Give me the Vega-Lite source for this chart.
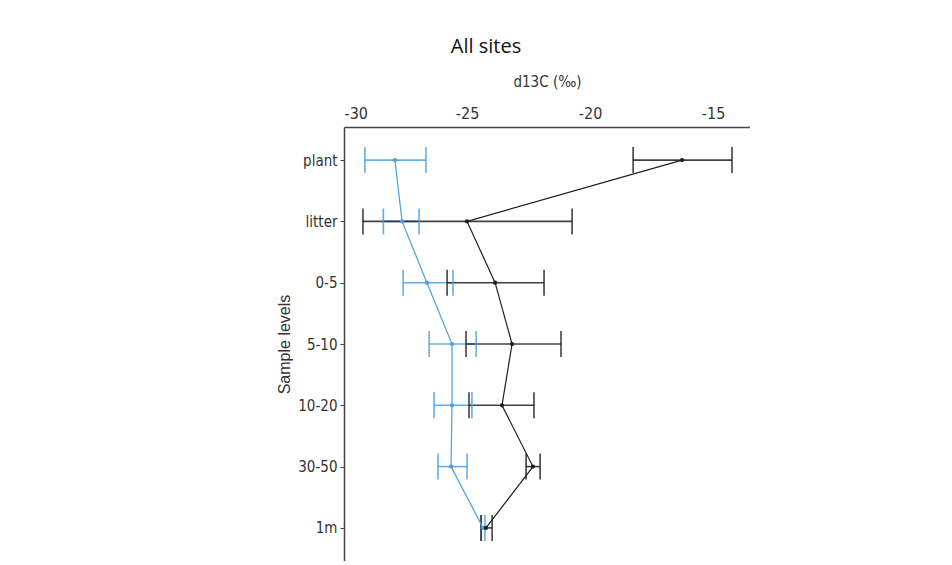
{
  "$schema": "https://vega.github.io/schema/vega-lite/v6.json",
  "autosize": "none",
  "width": 406,
  "height": 434,
  "padding": {"left": 344, "top": 127, "right": 0, "bottom": 0},
  "background": "white",
  "title": {
    "text": "All sites",
    "font": "Open Sans",
    "fontSize": 20,
    "fontWeight": "normal",
    "color": "#111",
    "anchor": "middle",
    "dx": -61,
    "offset": 17
  },
  "config": {
    "view": {"stroke": null},
    "axis": {
      "labelFont": "DejaVu Sans Condensed",
      "titleFont": "DejaVu Sans Condensed",
      "labelColor": "#333",
      "titleColor": "#333",
      "domainColor": "#444",
      "tickColor": "#444",
      "grid": false
    }
  },
  "data": {
    "values": [
      {"series": "blue", "level": "plant", "idx": 1, "mean": -27.93, "lo": -29.15, "hi": -26.67},
      {"series": "blue", "level": "litter", "idx": 2, "mean": -27.64, "lo": -28.4, "hi": -26.95},
      {"series": "blue", "level": "0-5", "idx": 3, "mean": -26.63, "lo": -27.6, "hi": -25.57},
      {"series": "blue", "level": "5-10", "idx": 4, "mean": -25.61, "lo": -26.54, "hi": -24.63},
      {"series": "blue", "level": "10-20", "idx": 5, "mean": -25.61, "lo": -26.34, "hi": -24.8},
      {"series": "blue", "level": "30-50", "idx": 6, "mean": -25.65, "lo": -26.18, "hi": -25.0},
      {"series": "blue", "level": "1m", "idx": 7, "mean": -24.35, "lo": -24.43, "hi": -24.27},
      {"series": "dark", "level": "plant", "idx": 1, "mean": -16.26, "lo": -18.25, "hi": -14.23},
      {"series": "dark", "level": "litter", "idx": 2, "mean": -25.0, "lo": -29.23, "hi": -20.73},
      {"series": "dark", "level": "0-5", "idx": 3, "mean": -23.86, "lo": -25.81, "hi": -21.87},
      {"series": "dark", "level": "5-10", "idx": 4, "mean": -23.17, "lo": -25.04, "hi": -21.18},
      {"series": "dark", "level": "10-20", "idx": 5, "mean": -23.58, "lo": -24.92, "hi": -22.28},
      {"series": "dark", "level": "30-50", "idx": 6, "mean": -22.32, "lo": -22.6, "hi": -22.03},
      {"series": "dark", "level": "1m", "idx": 7, "mean": -24.23, "lo": -24.43, "hi": -23.98}
    ]
  },
  "encoding": {
    "y": {
      "field": "level",
      "type": "nominal",
      "sort": ["plant", "litter", "0-5", "5-10", "10-20", "30-50", "1m"],
      "scale": {"type": "point", "padding": 0.54},
      "axis": {
        "title": "Sample levels",
        "titleFont": "Liberation Sans",
        "titleFontSize": 16,
        "titleFontWeight": "normal",
        "titlePadding": 5,
        "labelFontSize": 15,
        "labelPadding": 3,
        "tickSize": 4,
        "domainWidth": 1.5
      }
    },
    "color": {
      "field": "series",
      "type": "nominal",
      "scale": {"domain": ["blue", "dark"], "range": ["#4aa0e0", "#1e1e26"]},
      "legend": null
    }
  },
  "layer": [
    {
      "mark": {"type": "rule", "strokeWidth": 1.6, "opacity": 0.85},
      "encoding": {
        "x": {
          "field": "lo",
          "type": "quantitative",
          "scale": {"domain": [-30, -13.5], "nice": false, "zero": false},
          "axis": {
            "orient": "top",
            "title": "d13C (‰)",
            "titleFontSize": 15,
            "titleFontWeight": "normal",
            "titlePadding": 16,
            "values": [-30, -25, -20, -15],
            "labelExpr": "'' + datum.value",
            "labelFontSize": 16,
            "labelPadding": 6,
            "tickSize": 0,
            "domainWidth": 1.5
          }
        },
        "x2": {"field": "hi"}
      }
    },
    {
      "mark": {"type": "tick", "size": 26, "thickness": 1.6, "opacity": 0.85},
      "encoding": {"x": {"field": "lo", "type": "quantitative"}}
    },
    {
      "mark": {"type": "tick", "size": 26, "thickness": 1.6, "opacity": 0.85},
      "encoding": {"x": {"field": "hi", "type": "quantitative"}}
    },
    {
      "mark": {"type": "line", "strokeWidth": 1.2},
      "encoding": {
        "x": {"field": "mean", "type": "quantitative"},
        "order": {"field": "idx", "type": "quantitative"}
      }
    },
    {
      "mark": {"type": "circle", "size": 18, "opacity": 1},
      "encoding": {"x": {"field": "mean", "type": "quantitative"}}
    }
  ]
}
